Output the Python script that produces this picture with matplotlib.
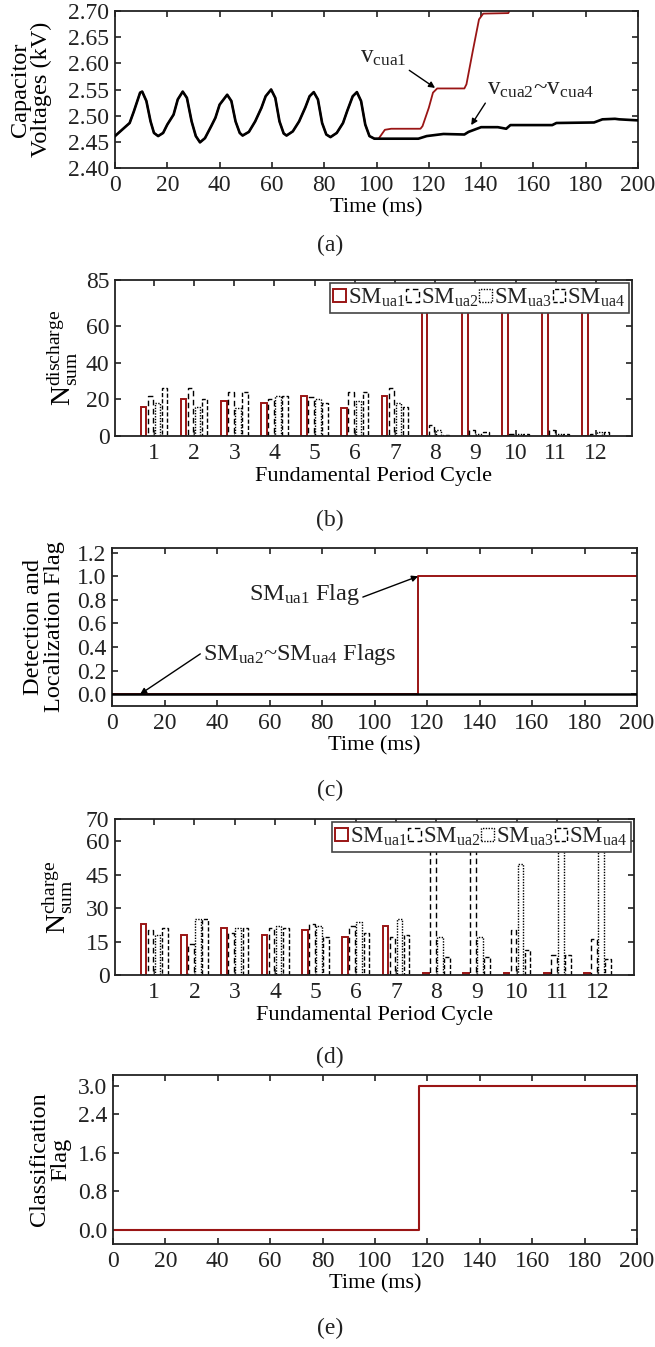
import matplotlib
matplotlib.use('Agg')
import matplotlib.pyplot as plt

# ---------------- data ----------------
# (a) capacitor voltages (kV)
t_common = [0, 5.6, 7.2, 9.6, 10.4, 12.0, 13.6, 14.9, 16.5, 18.4, 20.0, 22.4, 24.0, 25.9,
            27.5, 29.3, 30.9, 32.5, 34.4, 36.8, 38.4, 40.0, 42.9, 44.5, 46.1, 47.7, 48.8,
            51.2, 53.6, 56.0, 57.6, 59.7, 61.3, 62.9, 64.5, 65.6, 68.0, 70.4, 72.8, 74.4,
            76.0, 77.6, 79.2, 80.8, 82.4, 84.8, 87.2, 88.8, 90.9, 92.5, 94.1, 95.7, 97.3,
            99.2, 100.8]
v_common = [2.461, 2.486, 2.508, 2.544, 2.546, 2.528, 2.489, 2.467, 2.461, 2.467, 2.483,
            2.502, 2.531, 2.546, 2.534, 2.489, 2.461, 2.449, 2.457, 2.480, 2.496, 2.521,
            2.540, 2.528, 2.489, 2.467, 2.462, 2.469, 2.489, 2.515, 2.537, 2.550, 2.534,
            2.489, 2.466, 2.462, 2.470, 2.489, 2.516, 2.537, 2.545, 2.531, 2.486, 2.464,
            2.459, 2.467, 2.486, 2.509, 2.537, 2.545, 2.528, 2.483, 2.461, 2.456, 2.456]
t_ua1_after = [103.2, 105.6, 116.8, 117.6, 120.0, 121.6, 123.2, 133.6, 134.4, 136.8,
               139.2, 140.8, 150.4, 152.0]
v_ua1_after = [2.473, 2.475, 2.475, 2.480, 2.515, 2.544, 2.552, 2.552, 2.560, 2.623,
               2.684, 2.695, 2.696, 2.712]
t_rest_after = [116.0, 119.2, 125.6, 133.6, 135.2, 140.0, 146.4, 149.6, 151.2, 167.2,
                168.8, 183.2, 186.4, 191.2, 192.8, 200.0]
v_rest_after = [2.456, 2.461, 2.465, 2.464, 2.469, 2.478, 2.478, 2.475, 2.482, 2.482,
                2.486, 2.487, 2.493, 2.494, 2.493, 2.491]

# (b) discharge counts / (d) charge counts per fundamental cycle
cycles = list(range(1, 13))
dis_ua1 = [16, 20, 19, 18, 22, 15, 22, 80, 80, 80, 80, 80]
dis_ua2 = [22, 26, 24, 20, 21, 24, 26, 6, 3, 1, 3, 1]
dis_ua3 = [18, 16, 15, 22, 20, 19, 18, 3, 1, 1, 1, 2]
dis_ua4 = [26, 20, 24, 22, 18, 24, 16, 0.5, 2, 1, 1, 2]
ch_ua1 = [23, 18, 21, 18, 20, 17, 22, 1, 1, 1, 1, 1]
ch_ua2 = [20, 14, 19, 21, 23, 22, 17, 66, 66, 20, 9, 16]
ch_ua3 = [18, 25, 21, 22, 22, 24, 25, 17, 17, 50, 66, 66]
ch_ua4 = [21, 25, 21, 21, 17, 19, 18, 8, 8, 11, 9, 7]

# (c) detection/localization flags, (e) classification flag
flag_t = [0, 116.6, 116.6, 200]
flag_ua1 = [0, 0, 1, 1]
flag_rest_t = [0, 200]
flag_rest = [0, 0]
class_t = [0, 116.8, 116.8, 200]
class_v = [0, 0, 3, 3]

time_ticks = [0, 20, 40, 60, 80, 100, 120, 140, 160, 180, 200]

# ---------------- style ----------------
RED = '#9a1515'
TICK_FS = 17
LABEL_FS = 16
YLABEL_FS = 17.5
plt.rcParams.update({
    'font.family': ['Liberation Serif', 'DejaVu Serif'],
    'font.size': 16,
    'mathtext.fontset': 'custom',
    'mathtext.rm': 'Liberation Serif',
    'mathtext.it': 'Liberation Serif:italic',
    'mathtext.bf': 'Liberation Serif:bold',
    'axes.linewidth': 1.3,
    'axes.edgecolor': '#222222',
    'xtick.direction': 'in', 'ytick.direction': 'in',
    'xtick.top': True, 'ytick.right': True,
    'xtick.major.size': 4.5, 'ytick.major.size': 4.5,
    'xtick.major.width': 1.2, 'ytick.major.width': 1.2,
    'xtick.color': '#222222', 'ytick.color': '#222222',
    'xtick.labelsize': TICK_FS, 'ytick.labelsize': TICK_FS,
    'text.color': '#222222',
    'xtick.major.pad': 5, 'ytick.major.pad': 4,
})

W, H = 655, 1347
fig = plt.figure(figsize=(W / 100, H / 100), dpi=100)


def add_ax(l, t, r, b):
    return fig.add_axes([l / W, 1 - b / H, (r - l) / W, (b - t) / H])


def ylabel(ax, text, x, fs=YLABEL_FS):
    ax.set_ylabel(text, va='center', ha='center', linespacing=1.0, fontsize=fs)
    ax.yaxis.set_label_coords(x, 0.5)


arrow_kw = dict(arrowstyle='-|>', color='black', lw=1.0, mutation_scale=9,
                shrinkA=0, shrinkB=0)

# ---------------- (a) ----------------
ax = add_ax(115, 11, 638, 168)
ax.plot(t_common + t_ua1_after, v_common + v_ua1_after, color=RED, lw=1.3, zorder=2)
ax.plot(t_common + t_rest_after, v_common + v_rest_after, color='black', lw=1.9, zorder=3)
ax.set_xlim(0, 200)
ax.set_ylim(2.40, 2.70)
ax.set_xticks(time_ticks)
ax.set_yticks([2.40, 2.45, 2.50, 2.55, 2.60, 2.65, 2.70])
ax.set_yticklabels(['%.2f' % v for v in [2.40, 2.45, 2.50, 2.55, 2.60, 2.65, 2.70]])
ax.set_xlabel('Time (ms)', labelpad=2, fontsize=LABEL_FS)
ylabel(ax, 'Capacitor\nVoltages (kV)', -0.16)
ax.annotate(r'v$_{\mathrm{cua1}}$', xy=(122.4, 2.553), xytext=(93.6, 2.601),
            ha='left', va='baseline', fontsize=18,
            arrowprops=dict(arrow_kw, relpos=(1, 0)))
ax.annotate(r'v$_{\mathrm{cua2}}$~v$_{\mathrm{cua4}}$', xy=(136.2, 2.482), xytext=(142.3, 2.540),
            ha='left', va='baseline', fontsize=18,
            arrowprops=dict(arrow_kw, relpos=(0, 0)))
fig.text(330 / W, 1 - 245 / H, '(a)', ha='center', va='center', fontsize=17)

# ---------------- bar panels ----------------
offsets = [-0.2625, -0.0875, 0.0875, 0.2625]
bar_styles = [
    (RED, 'solid', 1.4, r'SM$_{\mathrm{ua1}}$'),
    ('black', (0, (4, 2.5)), 1.0, r'SM$_{\mathrm{ua2}}$'),
    ('black', (0, (1, 1)), 1.0, r'SM$_{\mathrm{ua3}}$'),
    ('black', (0, (3, 1.5)), 1.0, r'SM$_{\mathrm{ua4}}$'),
]


def bar_panel(ax, series):
    for vals, off, (ec, ls, lw, lab) in zip(series, offsets, bar_styles):
        ax.bar([c + off for c in cycles], vals, width=0.14, facecolor='white',
               edgecolor=ec, linestyle=ls, linewidth=lw, label=lab, zorder=2)
    ax.set_xlim(0.03, 12.9)
    ax.set_xticks(cycles)
    ax.set_xlabel('Fundamental Period Cycle', labelpad=2, fontsize=LABEL_FS)
    leg = ax.legend(ncol=4, loc='upper right', bbox_to_anchor=(1.0, 1.0),
                    borderaxespad=0.15, handlelength=0.55, handleheight=0.5,
                    handletextpad=0.08, columnspacing=0.05, borderpad=0.15,
                    fancybox=False, edgecolor='#444444', framealpha=1, fontsize=16.5)
    leg.get_frame().set_linewidth(1.2)
    leg.set_zorder(5)


ax = add_ax(115, 280, 632, 436)
bar_panel(ax, [dis_ua1, dis_ua2, dis_ua3, dis_ua4])
ax.set_ylim(0, 85)
ax.set_yticks([0, 20, 40, 60, 85])
ylabel(ax, r'$\mathrm{N}_{\mathrm{sum}}^{\mathrm{discharge}}$', -0.10, fs=20)
fig.text(330 / W, 1 - 520 / H, '(b)', ha='center', va='center', fontsize=17)

# ---------------- (c) ----------------
ax = add_ax(112, 548, 637, 706)
ax.plot(flag_t, flag_ua1, color=RED, lw=1.4, zorder=2)
ax.plot(flag_rest_t, flag_rest, color='black', lw=1.8, zorder=3)
ax.set_xlim(0, 200)
ax.set_ylim(-0.1, 1.24)
ax.set_xticks(time_ticks)
ax.set_yticks([0.0, 0.2, 0.4, 0.6, 0.8, 1.0, 1.2])
ax.set_yticklabels(['%.1f' % v for v in [0.0, 0.2, 0.4, 0.6, 0.8, 1.0, 1.2]])
ax.set_xlabel('Time (ms)', labelpad=2, fontsize=LABEL_FS)
ylabel(ax, 'Detection and\nLocalization Flag', -0.13)
ax.annotate(r'SM$_{\mathrm{ua1}}$ Flag', xy=(116.6, 1.0), xytext=(94.5, 0.80),
            ha='right', va='baseline', fontsize=17.5,
            arrowprops=dict(arrow_kw, relpos=(1, 0.35)))
ax.annotate(r'SM$_{\mathrm{ua2}}$~SM$_{\mathrm{ua4}}$ Flags', xy=(10.7, 0.0), xytext=(34.7, 0.29),
            ha='left', va='baseline', fontsize=17.5,
            arrowprops=dict(arrow_kw, relpos=(0, 0.6)))
fig.text(330 / W, 1 - 790 / H, '(c)', ha='center', va='center', fontsize=17)

# ---------------- (d) ----------------
ax = add_ax(115, 819, 634, 975)
bar_panel(ax, [ch_ua1, ch_ua2, ch_ua3, ch_ua4])
ax.set_ylim(0, 70)
ax.set_yticks([0, 15, 30, 45, 60, 70])
ylabel(ax, r'$\mathrm{N}_{\mathrm{sum}}^{\mathrm{charge}}$', -0.11, fs=20)
fig.text(330 / W, 1 - 1057 / H, '(d)', ha='center', va='center', fontsize=17)

# ---------------- (e) ----------------
ax = add_ax(113, 1075, 637, 1244)
ax.plot(class_t, class_v, color=RED, lw=1.5)
ax.set_xlim(0, 200)
ax.set_ylim(-0.3, 3.22)
ax.set_xticks(time_ticks)
ax.set_yticks([0.0, 0.8, 1.6, 2.4, 3.0])
ax.set_yticklabels(['%.1f' % v for v in [0.0, 0.8, 1.6, 2.4, 3.0]])
ax.set_xlabel('Time (ms)', labelpad=2, fontsize=LABEL_FS)
ylabel(ax, 'Classification\nFlag', -0.12)
fig.text(330 / W, 1 - 1328 / H, '(e)', ha='center', va='center', fontsize=17)

fig.savefig('out.png', dpi=100)
